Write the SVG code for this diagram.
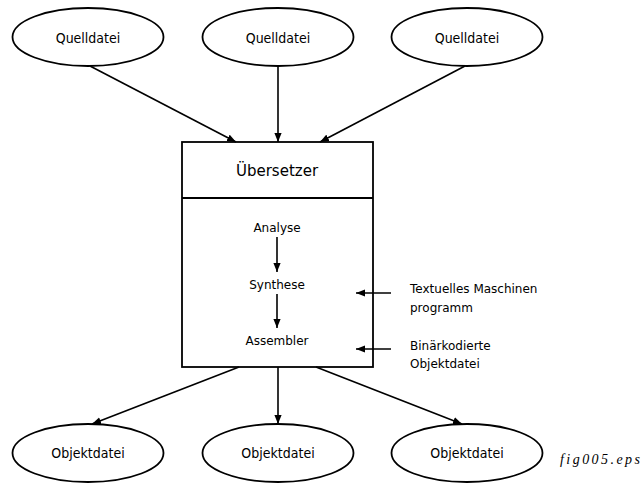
<svg xmlns="http://www.w3.org/2000/svg" width="642" height="486" viewBox="0 0 642 486">
  <style>
    .node { fill: #fff; stroke: #000; stroke-width: 1.8; }
    .lbl { font-family: "DejaVu Sans Condensed", "DejaVu Sans", "Liberation Sans", sans-serif; font-size: 14px; text-anchor: middle; fill: #000; }
    .txt { font-family: "DejaVu Sans", "Liberation Sans", sans-serif; font-size: 12px; fill: #000; }
    .mid { text-anchor: middle; }
    .edge { stroke: #000; stroke-width: 1.6; fill: none; marker-end: url(#arrow); }
  </style>
  <defs>
    <marker id="arrow" viewBox="0 0 10 8" refX="10" refY="4" markerUnits="userSpaceOnUse" markerWidth="9" markerHeight="8" orient="auto">
      <path d="M0,0 L10,4 L0,8 Z" fill="#000"/>
    </marker>
  </defs>

  <!-- source files -->
  <g id="quelle1">
    <ellipse class="node" cx="88" cy="37" rx="75.5" ry="29"/>
    <text class="lbl" x="88" y="43">Quelldatei</text>
  </g>
  <g id="quelle2">
    <ellipse class="node" cx="278" cy="37" rx="75.5" ry="29"/>
    <text class="lbl" x="278" y="43">Quelldatei</text>
  </g>
  <g id="quelle3">
    <ellipse class="node" cx="467" cy="37" rx="75.5" ry="29"/>
    <text class="lbl" x="467" y="43">Quelldatei</text>
  </g>

  <!-- compiler box -->
  <g id="uebersetzer">
    <rect class="node" x="182" y="142" width="191" height="225"/>
    <line x1="182" y1="198" x2="373" y2="198" stroke="#000" stroke-width="1.8"/>
    <text class="txt mid" x="277" y="176" style="font-size:15px">Übersetzer</text>
    <text class="txt mid" x="277" y="232">Analyse</text>
    <text class="txt mid" x="277" y="289">Synthese</text>
    <text class="txt mid" x="277" y="345">Assembler</text>
  </g>

  <!-- side notes -->
  <g id="notiz-text">
    <text class="txt" x="410" y="293">Textuelles Maschinen</text>
    <text class="txt" x="410" y="312">programm</text>
  </g>
  <g id="notiz-binaer">
    <text class="txt" x="410" y="350">Binärkodierte</text>
    <text class="txt" x="410" y="368">Objektdatei</text>
  </g>

  <!-- object files -->
  <g id="objekt1">
    <ellipse class="node" cx="88" cy="453" rx="75.5" ry="29"/>
    <text class="lbl" x="88" y="458">Objektdatei</text>
  </g>
  <g id="objekt2">
    <ellipse class="node" cx="278" cy="453" rx="75.5" ry="29"/>
    <text class="lbl" x="278" y="458">Objektdatei</text>
  </g>
  <g id="objekt3">
    <ellipse class="node" cx="467" cy="453" rx="75.5" ry="29"/>
    <text class="lbl" x="467" y="458">Objektdatei</text>
  </g>

  <text x="640" y="464" text-anchor="end" font-family="'Liberation Serif', 'DejaVu Serif', serif" font-style="italic" font-size="14" textLength="80" lengthAdjust="spacing">fig005.eps</text>

  <!-- connectors -->
  <g id="edges">
    <line class="edge" x1="90" y1="66" x2="236" y2="142"/>
    <line class="edge" x1="278" y1="66" x2="278" y2="142"/>
    <line class="edge" x1="465" y1="66" x2="320" y2="142"/>
    <line class="edge" x1="277" y1="237" x2="277" y2="272"/>
    <line class="edge" x1="277" y1="294" x2="277" y2="328"/>
    <line class="edge" x1="391" y1="293" x2="356" y2="293"/>
    <line class="edge" x1="391" y1="349" x2="356" y2="349"/>
    <line class="edge" x1="239" y1="367" x2="92" y2="424"/>
    <line class="edge" x1="278" y1="367" x2="278" y2="424"/>
    <line class="edge" x1="316" y1="367" x2="462" y2="424"/>
  </g>
</svg>
